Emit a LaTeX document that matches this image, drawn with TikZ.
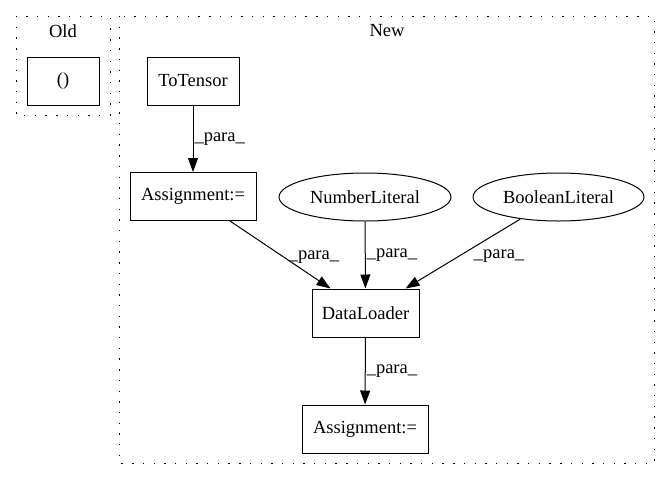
\documentclass[tikz,border=0pt]{standalone}
\usepackage{fontspec}
\setmainfont{Liberation Serif}
\usepackage{tikz}
\usetikzlibrary{arrows.meta,shapes.geometric}

\begin{document}
\begin{tikzpicture}[x=1pt,y=-1pt,line width=1pt,
    font=\fontsize{18.5}{22}\selectfont,
    box/.style={draw,rectangle,minimum height=48pt,inner sep=0pt},
    lit/.style={draw,ellipse,minimum height=48pt,inner sep=0pt},
    cluster/.style={draw,dash pattern=on 1.4pt off 9.3pt},
    edge/.style={-{Triangle[length=14pt,width=10pt]}},
    lbl/.style={anchor=west,inner sep=1pt}]
  \useasboundingbox (0,0) rectangle (671,480);
  % clusters
  \draw[cluster] (16,16) rectangle (110,115);
  \draw[cluster] (119,16) rectangle (654,463);
  \node (tOld) at (63,31) {Old};
  \node (tNew) at (387,31) {New};
  % nodes
  \node[box,minimum width=72pt] (empty) at (63,81) {()};
  \node[box,minimum width=92pt] (tt) at (193,81) {ToTensor};
  \node[box,minimum width=126pt] (a1) at (193,196.5) {Assignment:=};
  \node[lit,minimum width=172pt] (nl) at (365,197) {NumberLiteral};
  \node[lit,minimum width=171pt] (bl) at (558.5,197) {BooleanLiteral};
  \node[box,minimum width=107pt] (dl) at (365.5,313) {DataLoader};
  \node[box,minimum width=126pt] (a2) at (365,429) {Assignment:=};
  % edges
  \draw[edge] (tt) -- node[lbl,pos=0.5] {\_para\_} (a1);
  \draw[edge] ([xshift=37pt]a1.south) -- node[lbl,pos=0.54,xshift=3pt] {\_para\_} ([xshift=-35pt]dl.north);
  \draw[edge] (nl) -- node[lbl,pos=0.5] {\_para\_} (dl);
  \draw[edge] (bl.210) -- node[lbl,pos=0.54,xshift=14pt] {\_para\_} ([xshift=-14pt]dl.north east);
  \draw[edge] (dl) -- node[lbl,pos=0.5] {\_para\_} (a2);
\end{tikzpicture}
\end{document}
